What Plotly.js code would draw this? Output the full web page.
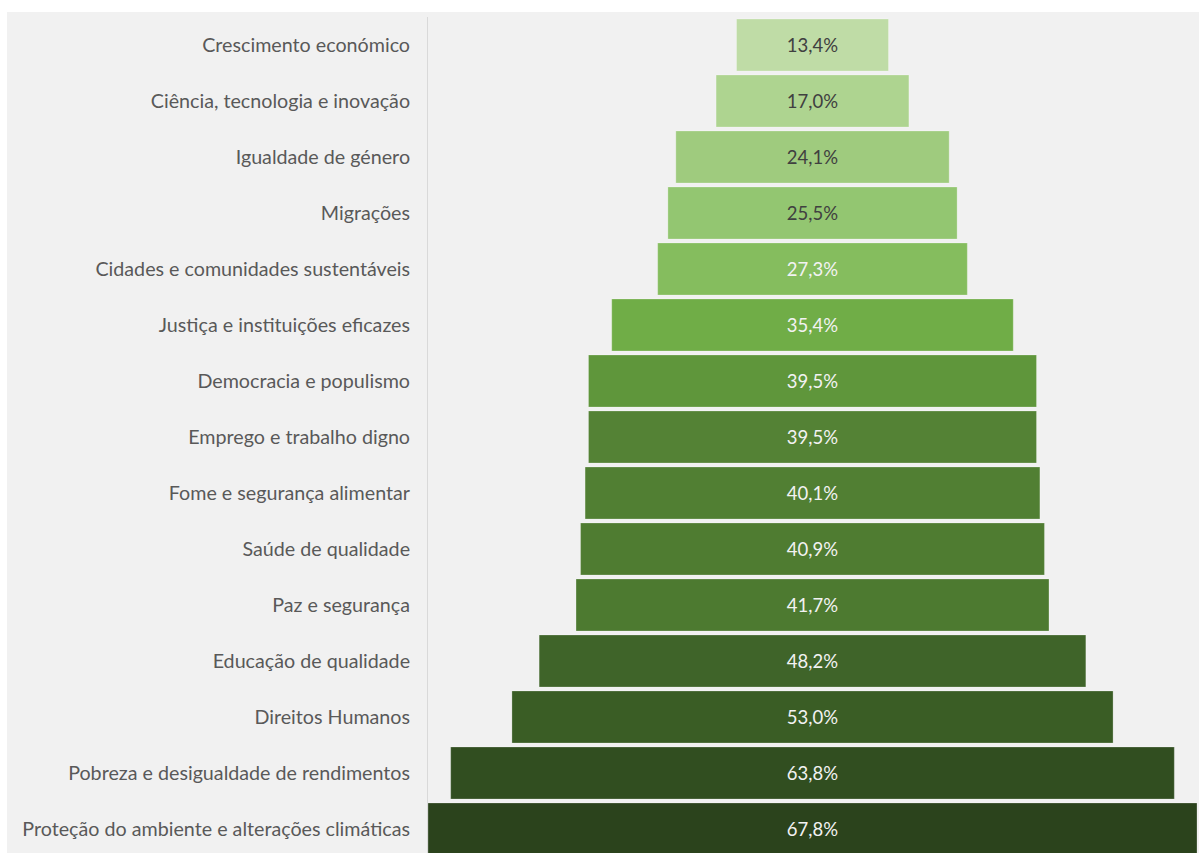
<!DOCTYPE html>
<html>
<head>
<meta charset="utf-8">
<script src="https://cdn.plot.ly/plotly-3.0.1.min.js"></script>
<style>
  html, body { margin: 0; padding: 0; background: #ffffff; overflow: hidden; }
  #chart { position: absolute; left: 7px; top: 12px; width: 1192px; height: 845px; }
</style>
</head>
<body>
<div id="chart"></div>
<script>
const categories = [
  "Crescimento económico",
  "Ciência, tecnologia e inovação",
  "Igualdade de género",
  "Migrações",
  "Cidades e comunidades sustentáveis",
  "Justiça e instituições eficazes",
  "Democracia e populismo",
  "Emprego e trabalho digno",
  "Fome e segurança alimentar",
  "Saúde de qualidade",
  "Paz e segurança",
  "Educação de qualidade",
  "Direitos Humanos",
  "Pobreza e desigualdade de rendimentos",
  "Proteção do ambiente e alterações climáticas"
];
const values = [13.4, 17.0, 24.1, 25.5, 27.3, 35.4, 39.5, 39.5, 40.1, 40.9, 41.7, 48.2, 53.0, 63.8, 67.8];
const barColors = ["#bfdca6", "#aed490", "#9fcb7e", "#93c671", "#85bd5e", "#70ad47", "#5f963b", "#548235",
                   "#517f33", "#4f7c31", "#4d7a30", "#3f6429", "#3a5d25", "#314e20", "#2b431c"];
const labelColors = ["#404040", "#404040", "#404040", "#404040", "#f2f2f2", "#f2f2f2", "#f2f2f2", "#f2f2f2",
                     "#f2f2f2", "#f2f2f2", "#f2f2f2", "#f2f2f2", "#f2f2f2", "#f2f2f2", "#f2f2f2"];

const maxV = Math.max(...values);

const trace = {
  type: "funnel",
  y: categories,
  x: values,
  orientation: "h",
  marker: { color: barColors, line: { color: "rgba(255,255,255,0.25)", width: 1 } },
  connector: { visible: false },
  textposition: "inside",
  texttemplate: "%{x:.1f}%",
  insidetextanchor: "middle",
  insidetextfont: { family: "Lato, 'Open Sans', sans-serif", size: 18.5, color: labelColors },
  hoverinfo: "y+x",
  constraintext: "none"
};

const layout = {
  width: 1192,
  height: 845,
  margin: { l: 421, r: 2, t: 5, b: 0, pad: 0 },
  paper_bgcolor: "#f1f1f1",
  plot_bgcolor: "#f1f1f1",
  separators: ",.",
  funnelgap: 0.07,
  showlegend: false,
  xaxis: {
    range: [-maxV / 2, maxV / 2],
    visible: false,
    showgrid: false,
    zeroline: false
  },
  yaxis: {
    autorange: "reversed",
    showline: true,
    linecolor: "#d9d9d9",
    linewidth: 1,
    ticks: "",
    ticklabelstandoff: 13,
    tickfont: { family: "Lato, 'Open Sans', sans-serif", size: 19.7, color: "#595959" },
    showgrid: false,
    zeroline: false
  },
  font: { family: "Lato, 'Open Sans', sans-serif" }
};

Plotly.newPlot("chart", [trace], layout, { displayModeBar: false, staticPlot: true });
</script>
</body>
</html>
